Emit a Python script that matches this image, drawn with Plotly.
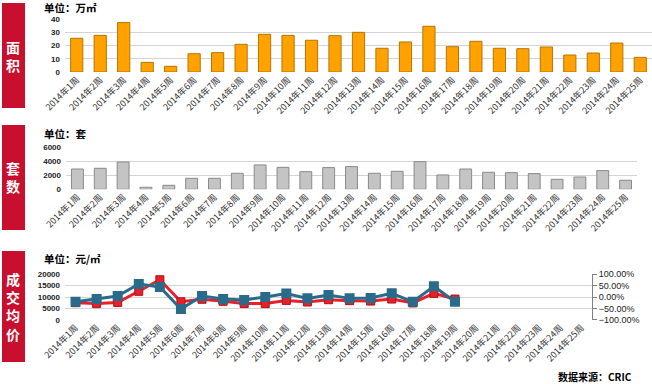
import plotly.graph_objects as go

weeks = ["2014年1周", "2014年2周", "2014年3周", "2014年4周", "2014年5周", "2014年6周",
         "2014年7周", "2014年8周", "2014年9周", "2014年10周", "2014年11周", "2014年12周",
         "2014年13周", "2014年14周", "2014年15周", "2014年16周", "2014年17周", "2014年18周",
         "2014年19周", "2014年20周", "2014年21周", "2014年22周", "2014年23周", "2014年24周",
         "2014年25周"]

area = [25.6, 27.8, 37.5, 7.3, 4.3, 13.9, 14.7, 21.0, 28.6, 27.8, 24.1, 27.6, 30.1,
        18.0, 22.8, 34.7, 19.2, 23.3, 18.0, 17.7, 19.0, 12.9, 14.4, 22.0, 11.1]
units = [2900, 3000, 3900, 290, 570, 1570, 1570, 2290, 3480, 3140, 2520, 3100, 3240,
         2290, 2570, 3950, 2050, 2900, 2430, 2380, 2240, 1430, 1760, 2670, 1290]
price = [7500, 7100, 7600, 12500, 17600, 7900, 9000, 8100, 7100, 7100, 8500, 7800, 8800,
         8400, 8200, 9100, 7400, 11600, 9100]
change = [-0.21, -0.09, 0.04, 0.57, 0.44, -0.53, 0.04, -0.09, -0.13, 0.0, 0.15, -0.06, 0.09,
          -0.06, -0.04, 0.16, -0.21, 0.47, -0.21]

W, H = 652, 384
FONT = "Noto Sans CJK SC"

def px(x):
    return min(1.0, x / W)

def py(y):
    return 1 - y / H

fig = go.Figure()

fig.add_trace(go.Bar(x=weeks, y=area, xaxis="x", yaxis="y",
                     marker=dict(color="#FFA200", line=dict(color="#B87400", width=1)),
                     width=0.52, showlegend=False))
fig.add_trace(go.Bar(x=weeks, y=units, xaxis="x2", yaxis="y2",
                     marker=dict(color="#C4C4C4", line=dict(color="#8A8A8A", width=1)),
                     width=0.52, showlegend=False))
fig.add_trace(go.Scatter(x=weeks[:len(price)], y=price, xaxis="x3", yaxis="y3",
                         mode="lines+markers",
                         line=dict(color="#E8202A", width=3),
                         marker=dict(symbol="square", size=8, color="#E8202A",
                                     line=dict(color="#B01018", width=1)),
                         showlegend=False))
fig.add_trace(go.Scatter(x=weeks[:len(change)], y=change, xaxis="x3", yaxis="y4",
                         mode="lines+markers",
                         line=dict(color="#2A6A8A", width=3),
                         marker=dict(symbol="square", size=10, color="#2A6A8A"),
                         showlegend=False))

tickf = dict(family=FONT, size=9, color="#333333")
xcommon = dict(type="category", categoryorder="array", categoryarray=weeks,
               range=[-0.5, 24.5], automargin=False,
               tickangle=-45, tickfont=tickf, showgrid=False, zeroline=False,
               showline=False, ticks="")
ycommon = dict(showgrid=True, gridcolor="#D4D4D4", gridwidth=1, zeroline=False,
               showline=False, ticks="", automargin=False, tickformat="d",
               ticklabelstandoff=4,
               tickfont=dict(family="Arial", size=8, color="#222222", weight="bold"))

fig.update_layout(
    width=W, height=H,
    margin=dict(l=0, r=0, t=0, b=0),
    paper_bgcolor="white", plot_bgcolor="white",
    bargap=0.48,
    xaxis=dict(domain=[px(65), px(652)], anchor="y", **xcommon),
    yaxis=dict(domain=[py(72), py(19.3)], anchor="x", range=[0, 40], dtick=10, **ycommon),
    xaxis2=dict(domain=[px(66), px(637)], anchor="y2", **xcommon),
    yaxis2=dict(domain=[py(189.3), py(147.3)], anchor="x2", range=[0, 6000], dtick=2000, **ycommon),
    xaxis3=dict(domain=[px(65), px(592)], anchor="y3", **xcommon),
    yaxis3=dict(domain=[py(319.7), py(274.3)], anchor="x3", range=[0, 20000], dtick=5000, **ycommon),
    yaxis4=dict(overlaying="y3", anchor="x3", side="right", range=[-1, 1], dtick=0.5,
                tickformat=".2%", showgrid=False, zeroline=False, showline=True,
                linecolor="#808080", linewidth=1, ticks="outside", ticklen=4,
                tickcolor="#808080", automargin=False,
                tickfont=dict(family="Arial", size=9, color="#222222")),
)

# red side boxes with vertical labels
boxes = [(3, 108, "面<br>积"), (125, 230, "套<br>数"), (251, 362, "成<br>交<br>均<br>价")]
for top, bot, txt in boxes:
    fig.add_shape(type="rect", xref="paper", yref="paper",
                  x0=px(2), x1=px(25), y0=py(bot), y1=py(top),
                  fillcolor="#C8102E", line=dict(width=0), layer="below")
    fig.add_annotation(xref="paper", yref="paper", x=px(13.5), y=py((top + bot) / 2),
                       text="<b>" + txt + "</b>", showarrow=False,
                       font=dict(family=FONT, size=14, color="white"),
                       xanchor="center", yanchor="middle", align="center")

titles = [(7.5, "单位：万㎡"), (134, "单位：套"), (258, "单位：元/㎡")]
for y, txt in titles:
    fig.add_annotation(xref="paper", yref="paper", x=px(42), y=py(y),
                       text="<b>" + txt + "</b>", showarrow=False,
                       font=dict(family=FONT, size=10.5, color="black"),
                       xanchor="left", yanchor="middle")

fig.add_annotation(xref="paper", yref="paper", x=px(634), y=py(376),
                   text="<b>数据来源：CRIC</b>", showarrow=False,
                   font=dict(family=FONT, size=10, color="black"),
                   xanchor="right", yanchor="middle")

fig.write_html("out.html",
               config={"displayModeBar": False},
               post_script="document.body.style.margin='0';document.body.style.padding='0';")
